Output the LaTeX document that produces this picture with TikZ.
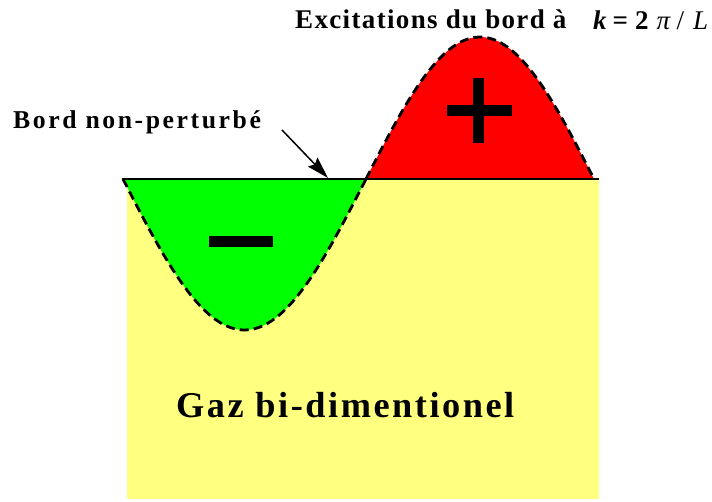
\documentclass[tikz,border=0pt]{standalone}
\usepackage{fontspec}
\setmainfont{Liberation Serif}
\usetikzlibrary{arrows.meta}
\definecolor{gaz}{RGB}{255,255,128}
\definecolor{moins}{RGB}{0,255,0}
\definecolor{plusc}{RGB}{255,0,0}
\tikzset{
  dashcurve/.style={draw=black, line width=2.8pt, dash pattern=on 9pt off 5pt},
  label/.style={inner sep=0pt, anchor=base west, font=\bfseries},
  signbar/.style={fill=black, draw=none},
}
\begin{document}
\begin{tikzpicture}[x=1pt, y=-1pt]
\useasboundingbox (0,0) rectangle (712,501);
% gas region
\fill[gaz] (127,179) rectangle (599,499);
% negative lobe
\fill[moins] plot[domain=123:366, samples=80] (\x, {179+151*sin((\x-123)/243*180)}) -- cycle;
% positive lobe
\fill[plusc] plot[domain=366:594, samples=80] (\x, {179-142*sin((\x-366)/228*180)}) -- cycle;
\draw[dashcurve] plot[domain=123:366, samples=80] (\x, {179+151*sin((\x-123)/243*180)});
\draw[dashcurve] plot[domain=366:594, samples=80] (\x, {179-142*sin((\x-366)/228*180)});
% unperturbed edge
\draw[line width=2pt] (122,179) -- (599,179);
% signs
\fill[signbar] (209,236) rectangle (273,247);
\fill[signbar] (447,105) rectangle (512,116);
\fill[signbar] (473,78) rectangle (484,143);
% texts
\node[label] (titre) at (295,28) {\fontsize{27}{30}\selectfont\addfontfeature{LetterSpace=5}Excitations du bord à};
\node[inner sep=0pt, anchor=base west] (formule) at (593,29) {\fontsize{27}{30}\selectfont\textbf{\textit{k}}\hspace{6pt}\textbf{=}\hspace{7pt}\textbf{2}\hspace{8pt}\textit{π}\hspace{6pt}/\hspace{9pt}\textit{L}};
\node[label] (bord) at (13,128) {\fontsize{25.7}{28}\selectfont\addfontfeature{LetterSpace=10}Bord non-perturbé};
\node[label] (gaz) at (176,417) {\fontsize{36.3}{40}\selectfont\addfontfeature{LetterSpace=7}Gaz bi-dimentionel};
% arrow
\coordinate (flechedebut) at (282,130);
\coordinate (flechefin) at (328,178);
\draw[line width=1.5pt, -{Stealth[length=22pt, width=13pt, inset=3pt]}] (flechedebut) -- (flechefin);
\end{tikzpicture}
\end{document}
